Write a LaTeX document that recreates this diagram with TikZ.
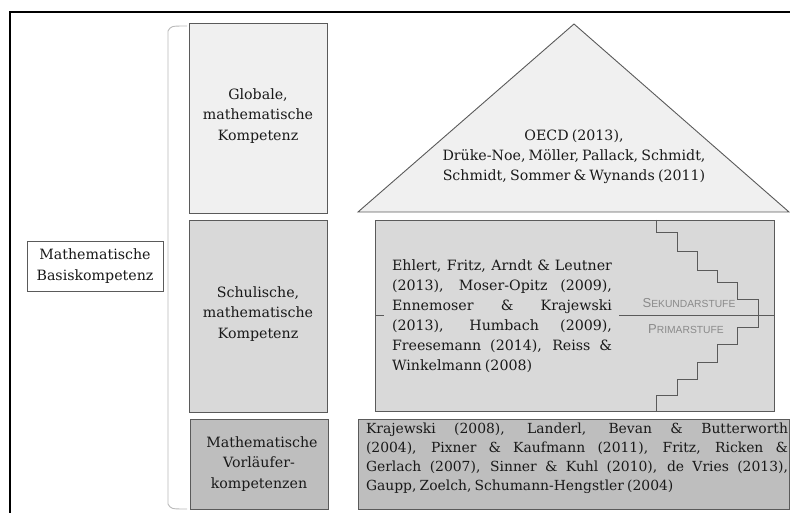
\documentclass[tikz,border=0pt]{standalone}
\usepackage{fontspec}
\setmainfont[WordSpace=0.7]{DejaVu Serif}
\setsansfont{Liberation Sans}
\definecolor{topfill}{HTML}{F0F0F0}
\definecolor{midfill}{HTML}{D9D9D9}
\definecolor{lowfill}{HTML}{BEBEBE}
\definecolor{edgegray}{HTML}{5A5A5A}
\definecolor{stufegray}{HTML}{8A8A8A}
\newcommand{\jline}[2]{\makebox[#1][s]{#2}}
\tikzset{
  x=1pt, y=-1pt,
  lvlbox/.style={draw=edgegray, line width=0.9pt, inner sep=0pt, align=center,
    text=black!90, font=\fontsize{14.2}{20.5}\selectfont},
  reftext/.style={inner sep=0pt, align=left, text=black!90,
    font=\fontsize{14.2}{20}\selectfont},
  stufe/.style={inner sep=0pt, text=stufegray, font=\sffamily},
}
\begin{document}
\begin{tikzpicture}
\useasboundingbox (0,0) rectangle (790,513);
% outer frame (left and top edges)
\draw[line width=1.5pt] (10,513) -- (10,12) -- (790,12);

% grouping bracket
\coordinate (bt) at (187,26);
\coordinate (bb) at (187,509);
\draw[gray!55, line width=0.9pt] (bt) .. controls (171,26) .. (168,31) -- (168,504) .. controls (171,509) .. (bb);

% left label
\node[lvlbox, fill=white, minimum width=136, minimum height=50] (basis) at (95,266)
  {Mathematische\\Basiskompetenz};

% competence levels
\node[lvlbox, fill=topfill, minimum width=138, minimum height=190] (glob) at (258,118)
  {\\[-14.5pt]Globale,\\mathematische\\Kompetenz};
\node[lvlbox, fill=midfill, minimum width=138, minimum height=192] (schul) at (258,316)
  {\\[-14.5pt]Schulische,\\mathematische\\Kompetenz};
\node[lvlbox, fill=lowfill, minimum width=138, minimum height=90] (vorl) at (259,464)
  {\hspace*{6pt}Mathematische\\Vorläufer-\\kompetenzen};

% roof
\coordinate (apex) at (574,24);
\coordinate (roofl) at (358,212);
\coordinate (roofr) at (789,212);
\draw[edgegray, line width=0.9pt, fill=topfill, line join=miter] (roofl) -- (apex) -- (roofr) -- cycle;
\node[reftext, align=center] (oecd) at (574,157)
  {OECD (2013),\\Drüke-Noe, Möller, Pallack, Schmidt,\\Schmidt, Sommer \& Wynands (2011)};

% school box with stairs
\node[lvlbox, fill=midfill, minimum width=399, minimum height=191] (schulref) at (574.5,315.5) {};
\draw[edgegray, line width=0.8pt] (656,220) -- (656,232) -- (677,232) -- (677,251)
  -- (697,251) -- (697,270) -- (717,270) -- (717,282) -- (737,282) -- (737,299)
  -- (758,299) -- (758,327) -- (737,327) -- (737,344) -- (717,344) -- (717,362)
  -- (697,362) -- (697,379) -- (677,379) -- (677,395) -- (656,395) -- (656,411);
\coordinate (divl) at (619,315);
\coordinate (divr) at (774,315);
\draw[edgegray, line width=0.8pt] (divl) -- (divr);
\coordinate (tickl) at (375,315);
\coordinate (tickr) at (384,315);
\draw[edgegray, line width=0.8pt] (tickl) -- (tickr);
\node[stufe] (sek) at (689,303) {{\fontsize{13}{13}\selectfont S}{\fontsize{10.3}{10.3}\selectfont EKUNDARSTUFE}};
\node[stufe] (prim) at (686,329) {{\fontsize{13}{13}\selectfont P}{\fontsize{10.3}{10.3}\selectfont RIMARSTUFE}};

\node[reftext] (schullist) at (502,316)
  {\jline{220pt}{Ehlert, Fritz, Arndt \& Leutner}\\
   \jline{220pt}{(2013), Moser-Opitz (2009),}\\
   \jline{220pt}{Ennemoser \& Krajewski}\\
   \jline{220pt}{(2013), Humbach (2009),}\\
   \jline{220pt}{Freesemann (2014), Reiss \&}\\
   Winkelmann (2008)};

% precursor box
\node[lvlbox, fill=lowfill, minimum width=431, minimum height=90] (vorlref) at (573.5,464) {};
\node[reftext, font=\fontsize{13.9}{19}\selectfont] (vorllist) at (577,458.5)
  {\jline{422pt}{Krajewski (2008), Landerl, Bevan \& Butterworth}\\
   \jline{422pt}{(2004), Pixner \& Kaufmann (2011), Fritz, Ricken \&}\\
   \jline{422pt}{Gerlach (2007), Sinner \& Kuhl (2010), de Vries (2013),}\\
   \makebox[422pt][l]{Gaupp, Zoelch, Schumann-Hengstler (2004)}};
\end{tikzpicture}
\end{document}
